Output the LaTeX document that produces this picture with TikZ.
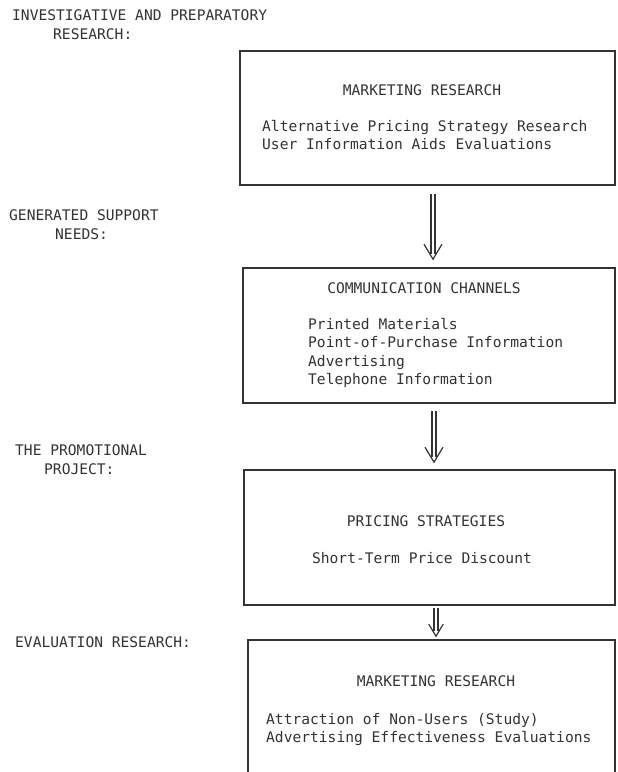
\documentclass[tikz,border=0pt]{standalone}
\usepackage{fontspec}
\newfontfamily\typewr{DejaVu Sans Mono}
\usetikzlibrary{decorations.markings}

\tikzset{
  box/.style={draw=black!80, line width=1.6pt, rectangle, inner sep=0pt},
  txt/.style={font=\typewr\fontsize{14.6}{18.3}\selectfont, text=black!80, inner sep=0pt},
  flow/.style={draw=black!80, line width=5.3pt, shorten >=5pt,
    postaction={draw=white, line width=2.7pt, shorten >=5pt},
    postaction={decorate, decoration={markings, mark=at position 1 with
      {\draw[black!80, line width=1.2pt, shorten >=0pt] (-#1pt,0.6*#1pt) -- (0,0) -- (-#1pt,-0.6*#1pt);}}}},
  flow/.default=15
}

\begin{document}
\begin{tikzpicture}[x=1pt,y=-1pt]
\useasboundingbox[fill=white] (0,0) rectangle (618,772);

\node[box, minimum width=375pt, minimum height=134pt] (b1) at (427.5,118) {};
\node[box, minimum width=372pt, minimum height=135pt] (b2) at (429,335.5) {};
\node[box, minimum width=371pt, minimum height=135pt] (b3) at (429.5,537.5) {};
\node[box, minimum width=367pt, minimum height=140pt] (b4) at (431.5,710) {};

\node[txt, anchor=base west] (s1a) at (12,20.5) {INVESTIGATIVE AND PREPARATORY};
\node[txt, anchor=base west] (s1b) at (53,39.5) {RESEARCH:};
\node[txt, anchor=base west] (s2a) at (9,220.5) {GENERATED SUPPORT};
\node[txt, anchor=base west] (s2b) at (55,239.5) {NEEDS:};
\node[txt, anchor=base west] (s3a) at (15,455.5) {THE PROMOTIONAL};
\node[txt, anchor=base west] (s3b) at (44,474.5) {PROJECT:};
\node[txt, anchor=base west] (s4a) at (15,647.5) {EVALUATION RESEARCH:};

\node[txt, anchor=base] (t1) at (422,95.5) {MARKETING RESEARCH};
\node[txt, anchor=base west, align=left] (l1) at (262,149.5) {Alternative Pricing Strategy Research\\User Information Aids Evaluations};
\node[txt, anchor=base] (t2) at (424,293) {COMMUNICATION CHANNELS};
\node[txt, anchor=base west, align=left] (l2) at (308,384.5) {Printed Materials\\Point-of-Purchase Information\\Advertising\\Telephone Information};
\node[txt, anchor=base] (t3) at (426,526.5) {PRICING STRATEGIES};
\node[txt, anchor=base] (l3) at (422,563.5) {Short-Term Price Discount};
\node[txt, anchor=base] (t4) at (436,686) {MARKETING RESEARCH};
\node[txt, anchor=base west, align=left] (l4) at (266,742.5) {Attraction of Non-Users (Study)\\Advertising Effectiveness Evaluations};

\draw[flow] ([xshift=5.5pt,yshift=-8pt]b1.south) -- ([xshift=4pt,yshift=8pt]b2.north);
\draw[flow] ([xshift=5pt,yshift=-7pt]b2.south) -- ([xshift=4.5pt,yshift=7pt]b3.north);
\draw[flow=12] ([xshift=6.5pt,yshift=-2pt]b3.south) -- ([xshift=4.5pt,yshift=3pt]b4.north);
\end{tikzpicture}
\end{document}
